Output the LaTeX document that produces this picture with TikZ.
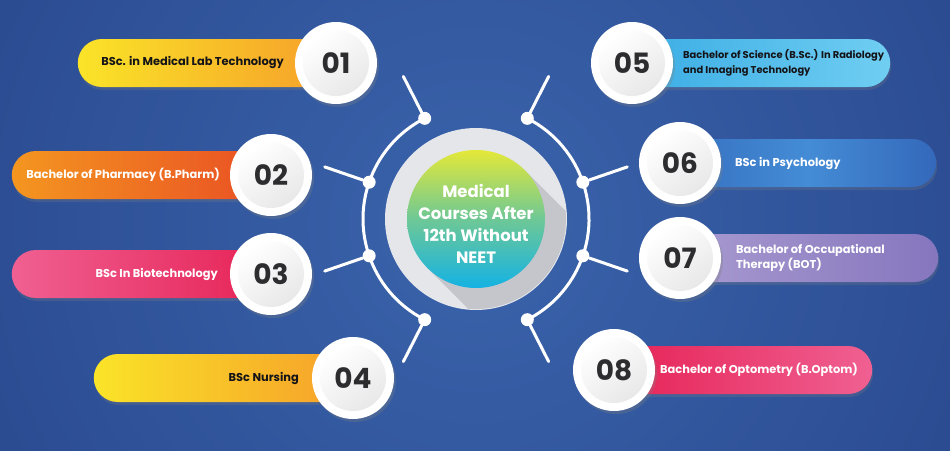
\documentclass[tikz,border=0pt]{standalone}
\usepackage{fontspec}
\setmainfont{Poppins}
\usetikzlibrary{positioning,shadows}

\definecolor{bgdark}{RGB}{33,58,126}
\definecolor{bglight}{RGB}{58,100,172}
\definecolor{numgray}{RGB}{45,45,48}
\definecolor{hubgray}{RGB}{229,230,234}
\definecolor{hubshade}{RGB}{196,198,204}
\definecolor{hubtop}{RGB}{228,232,56}
\definecolor{hubmid}{RGB}{110,200,150}
\definecolor{hubbot}{RGB}{20,178,228}
\definecolor{yelA}{RGB}{250,228,40}
\definecolor{yelB}{RGB}{246,158,42}
\definecolor{orgA}{RGB}{244,150,32}
\definecolor{orgB}{RGB}{233,78,36}
\definecolor{pinkA}{RGB}{240,96,146}
\definecolor{pinkB}{RGB}{230,34,86}
\definecolor{skyA}{RGB}{58,172,228}
\definecolor{skyB}{RGB}{112,206,242}
\definecolor{blueA}{RGB}{54,112,192}
\definecolor{blueM}{RGB}{68,140,214}
\definecolor{blueB}{RGB}{52,104,186}
\definecolor{lilA}{RGB}{168,154,208}
\definecolor{lilB}{RGB}{134,118,190}
\definecolor{inkdark}{RGB}{20,20,24}

\begin{document}
\begin{tikzpicture}[x=1pt, y=-1pt,
  bar/.style={rectangle, rounded corners=24pt, minimum height=48pt, inner sep=0pt, drop shadow={opacity=0.25, shadow xshift=1pt, shadow yshift=-3pt}},
  numdisc/.style={circle, fill=white, minimum size=82pt, inner sep=0pt, drop shadow={opacity=0.3, shadow xshift=2pt, shadow yshift=-3pt}},
  numface/.style={circle, minimum size=66pt, inner sep=0pt, top color=white, bottom color=gray!18, shading angle=35, text=numgray, font=\fontsize{28}{28}\selectfont\bfseries},
  course/.style={font=\fontsize{11.4}{15}\selectfont\bfseries, inner sep=0pt, align=left},
  ring/.style={white, line width=3pt},
  spoke/.style={white, line width=3pt, line cap=round},
  dot/.style={circle, fill=white, minimum size=13pt, inner sep=0pt}
]
\useasboundingbox (0,0) rectangle (950,450);
% backdrop
\begin{scope}
  \clip (0,0) rectangle (950,450);
  \shade[inner color=bglight, outer color=bgdark] (475,225) circle (900);
\end{scope}

% hub with its long shadow
\coordinate (hubc) at (476,219);
\node[circle, fill=hubgray, minimum size=182pt, inner sep=0pt] (hub) at (hubc) {};
\begin{scope}
  \clip (hubc) circle (90);
  \fill[hubshade] (524.8,170.2) -- ++(130,130) -- (557.2,397.8) -- (427.2,267.8) -- cycle;
\end{scope}
\node[circle, minimum size=138pt, inner sep=0pt, top color=hubtop, bottom color=hubbot, middle color=hubmid] (hubcore) at (hubc) {};
\node[text=white, align=center, font=\fontsize{16.5}{22}\selectfont\bfseries] (hubtext) at ([yshift=-5pt]hubc) {Medical\\Courses After\\12th Without\\NEET};

% joints on the two rings
\node[dot] (d1) at ([shift={(243:113)}]hubc) {};
\node[dot] (d2) at ([shift={(199:113)}]hubc) {};
\node[dot] (d3) at ([shift={(161:113)}]hubc) {};
\node[dot] (d4) at ([shift={(117:113)}]hubc) {};
\node[dot] (d5) at ([shift={(297:113)}]hubc) {};
\node[dot] (d6) at ([shift={(341:113)}]hubc) {};
\node[dot] (d7) at ([shift={(19:113)}]hubc) {};
\node[dot] (d8) at ([shift={(63:113)}]hubc) {};
\coordinate (s1) at ([shift={(243:160)}]hubc);
\coordinate (s2) at ([shift={(199:160)}]hubc);
\coordinate (s3) at ([shift={(161:160)}]hubc);
\coordinate (s4) at ([shift={(117:160)}]hubc);
\coordinate (s5) at ([shift={(297:160)}]hubc);
\coordinate (s6) at ([shift={(341:160)}]hubc);
\coordinate (s7) at ([shift={(19:160)}]hubc);
\coordinate (s8) at ([shift={(63:160)}]hubc);
\draw[ring] (d4.center) arc[start angle=117, end angle=243, radius=113];
\draw[ring] (d5.center) arc[start angle=-63, end angle=63, radius=113];
\draw[spoke] (d1) -- (s1);
\draw[spoke] (d2) -- (s2);
\draw[spoke] (d3) -- (s3);
\draw[spoke] (d4) -- (s4);
\draw[spoke] (d5) -- (s5);
\draw[spoke] (d6) -- (s6);
\draw[spoke] (d7) -- (s7);
\draw[spoke] (d8) -- (s8);

% left courses
\node[bar, left color=yelA, right color=yelB, minimum width=258pt, anchor=east] (b1) at (336,63) {};
\node[numdisc] (n1) at (336,63) {};
\node[numface] (f1) at (n1) {01};
\node[course, text=inkdark, left=52pt of n1.center] (t1) {BSc. in Medical Lab Technology};

\node[bar, left color=orgA, right color=orgB, minimum width=259pt, anchor=east] (b2) at (271,175) {};
\node[numdisc] (n2) at (271,175) {};
\node[numface] (f2) at (n2) {02};
\node[course, text=white, left=51pt of n2.center] (t2) {Bachelor of Pharmacy (B.Pharm)};

\node[bar, left color=pinkA, right color=pinkB, minimum width=259pt, anchor=east] (b3) at (271,274) {};
\node[numdisc] (n3) at (271,274) {};
\node[numface] (f3) at (n3) {03};
\node[course, text=white, left=53pt of n3.center] (t3) {BSc In Biotechnology};

\node[bar, left color=yelA, right color=yelB, minimum width=259pt, anchor=east] (b4) at (353,378) {};
\node[numdisc] (n4) at (353,378) {};
\node[numface] (f4) at (n4) {04};
\node[course, text=inkdark, left=54pt of n4.center] (t4) {BSc Nursing};

% right courses
\node[bar, left color=skyA, right color=skyB, minimum width=258pt, anchor=west] (b5) at (632,63) {};
\node[numdisc] (n5) at (632,63) {};
\node[numface] (f5) at (n5) {05};
\node[course, text=inkdark, font=\fontsize{9.9}{15}\selectfont\bfseries, right=51pt of n5.center] (t5) {Bachelor of Science (B.Sc.) In Radiology\\and Imaging Technology};

\node[bar, left color=blueA, right color=blueB, middle color=blueM, minimum width=256pt, anchor=west] (b6) at (680,163) {};
\node[numdisc] (n6) at (680,163) {};
\node[numface] (f6) at (n6) {06};
\node[course, text=white, right=55pt of n6.center] (t6) {BSc in Psychology};

\node[bar, left color=lilA, right color=lilB, minimum width=258pt, anchor=west] (b7) at (680,258) {};
\node[numdisc] (n7) at (680,258) {};
\node[numface] (f7) at (n7) {07};
\node[course, text=white, right=56pt of n7.center] (t7) {Bachelor of Occupational\\Therapy (BOT)};

\node[bar, left color=pinkB, right color=pinkA, minimum width=258pt, anchor=west] (b8) at (614,370) {};
\node[numdisc] (n8) at (614,370) {};
\node[numface] (f8) at (n8) {08};
\node[course, text=white, right=46pt of n8.center] (t8) {Bachelor of Optometry (B.Optom)};
\end{tikzpicture}
\end{document}
